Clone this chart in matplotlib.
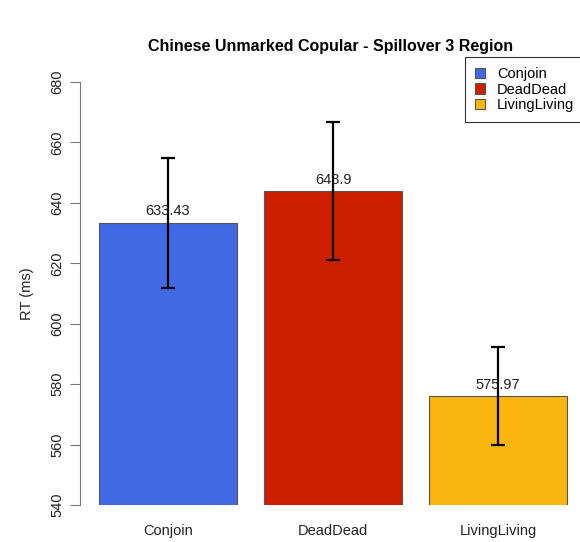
import numpy as np
import matplotlib.pyplot as plt

plt.rcParams['font.family'] = ['Liberation Sans', 'DejaVu Sans']

# data
conditions = ['Conjoin', 'DeadDead', 'LivingLiving']
mean_rt = [633.43, 643.9, 575.97]
err_rt = [21.5, 22.8, 16.2]
bar_colors = ['#4169E1', '#CC1F00', '#FBB60F']

fig = plt.figure(figsize=(5.8, 5.42), dpi=100)
# axes placed in pixel terms: y axis at x=80, 680 at y=82, 540 at y=505
ax = fig.add_axes([80 / 580, 37 / 542, 540 / 580, 423 / 542])

x = np.array([0.7, 1.9, 3.1])
ax.bar(x, mean_rt, width=1.0, color=bar_colors, edgecolor='#555555',
       linewidth=0.8, label=conditions, zorder=2)
ax.errorbar(x, mean_rt, yerr=err_rt, fmt='none', ecolor='black',
            elinewidth=1.6, capsize=5, capthick=1.6, zorder=3)
for xi, v in zip(x, mean_rt):
    ax.text(xi, v + 1.5, f'{v:g}', ha='center', va='bottom',
            fontsize=10.5, color='#222222', zorder=4)

ax.set_xlim(0.06, 0.06 + 540 / 137.5)
ax.set_ylim(540, 680)
ax.set_yticks(np.arange(540, 681, 20))
ax.tick_params(axis='y', direction='out', length=7, color='#777777',
               labelsize=10.5, labelcolor='#222222', pad=4)
for lab in ax.get_yticklabels():
    lab.set_rotation(90)
    lab.set_va('center')
ax.set_xticks(x)
ax.set_xticklabels(conditions)
ax.tick_params(axis='x', length=0, labelsize=10.5, labelcolor='#222222', pad=14)

for side in ['top', 'right', 'bottom']:
    ax.spines[side].set_visible(False)
ax.spines['left'].set_color('#777777')
ax.spines['left'].set_bounds(540, 680)

ax.set_ylabel('RT (ms)', fontsize=10.5, color='#222222', labelpad=12)

fig.text(331 / 580, 1 - 47 / 542, 'Chinese Unmarked Copular - Spillover 3 Region',
         ha='center', va='center', fontsize=11.5, fontweight='bold')

leg = ax.legend(loc='upper left', bbox_to_anchor=((465 - 80) / 540, 1 + 25 / 423),
                fontsize=10.5, frameon=True, fancybox=False, edgecolor='black',
                handlelength=0.7, handleheight=0.7, handletextpad=0.8,
                borderpad=0.7, borderaxespad=0, labelspacing=0.1)
leg.get_frame().set_linewidth(0.8)

fig.savefig('out.png', dpi=100)
